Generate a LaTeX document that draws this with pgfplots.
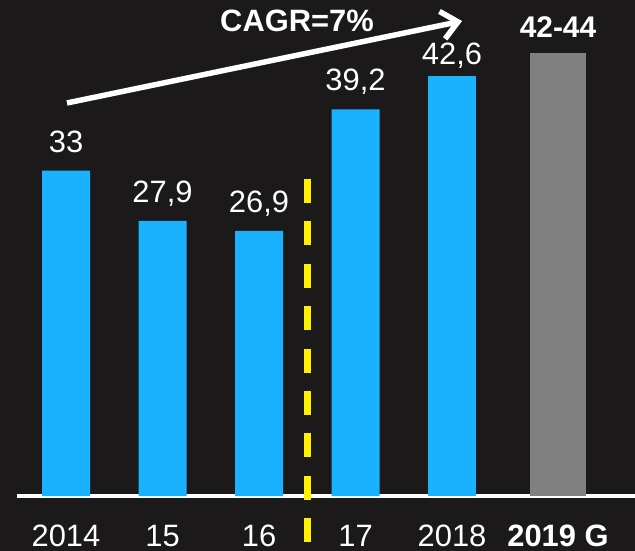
\documentclass[border=0pt]{standalone}
\usepackage{pgfplots}
\pgfplotsset{compat=1.18}
\usepackage{fontspec}
\setmainfont{Liberation Sans}
\usetikzlibrary{arrows.meta}

\definecolor{bg}{RGB}{27,25,25}
\definecolor{barblue}{RGB}{26,178,255}
\definecolor{bargray}{RGB}{128,128,128}
\definecolor{cutline}{RGB}{255,240,0}

\begin{document}
\begin{tikzpicture}
\fill[bg] (0,0) rectangle (635bp,551bp);
\useasboundingbox (0,0) rectangle (635bp,551bp);
\begin{axis}[
    at={(17bp,55bp)}, anchor=south west,
    scale only axis, width=618bp, height=493bp,
    xmin=-0.5078, xmax=5.896,
    ymin=0, ymax=50,
    axis y line=none, axis x line*=bottom,
    x axis line style={white, line width=4bp},
    xtick={0,1,2,3,4,5.098},
    xticklabels={2014,15,16,17,2018,\textbf{2019 G}},
    major tick length=0pt,
    xticklabel style={white, font=\fontsize{31}{31}\selectfont, anchor=base, yshift=-50bp},
    clip=false,
    point meta=explicit symbolic,
    every node near coord/.append style={white, font=\fontsize{31}{31}\selectfont, anchor=base, inner sep=0pt},
]

% 2014-2017
\addplot[ybar, bar shift=0pt, bar width=48bp, fill=barblue, draw=none,
    nodes near coords, every node near coord/.append style={yshift=18.5bp}]
    coordinates {(0,33)[33] (1,27.9)[27,9] (2,26.9)[26,9] (3,39.2)[39,2]};

% 2018 (label sits lower, under the arrow)
\addplot[ybar, bar shift=0pt, bar width=48bp, fill=barblue, draw=none,
    nodes near coords, every node near coord/.append style={yshift=11.7bp}]
    coordinates {(4,42.6)[42,6]};

% 2019 guidance
\addplot[ybar, bar shift=0pt, bar width=56bp, fill=bargray, draw=none,
    nodes near coords, every node near coord/.append style={yshift=16bp, font=\bfseries\fontsize{30}{30}\selectfont}]
    coordinates {(5.098,44.9)[42-44]};

\draw[cutline, line width=6.5bp, dash pattern=on 24bp off 18.4bp]
    (axis cs:2.5,32.15) -- (axis cs:2.5,-4.7);

\draw[white, line width=5.5bp, -{Straight Barb[length=16bp,width=28bp]}]
    (axis cs:0.01,39.86) -- (axis cs:4.104,48.17);
\node[white, font=\bfseries\fontsize{31}{31}\selectfont, anchor=base]
    at (axis cs:2.394,47.06) {CAGR=7\%};
\end{axis}
\end{tikzpicture}
\end{document}
